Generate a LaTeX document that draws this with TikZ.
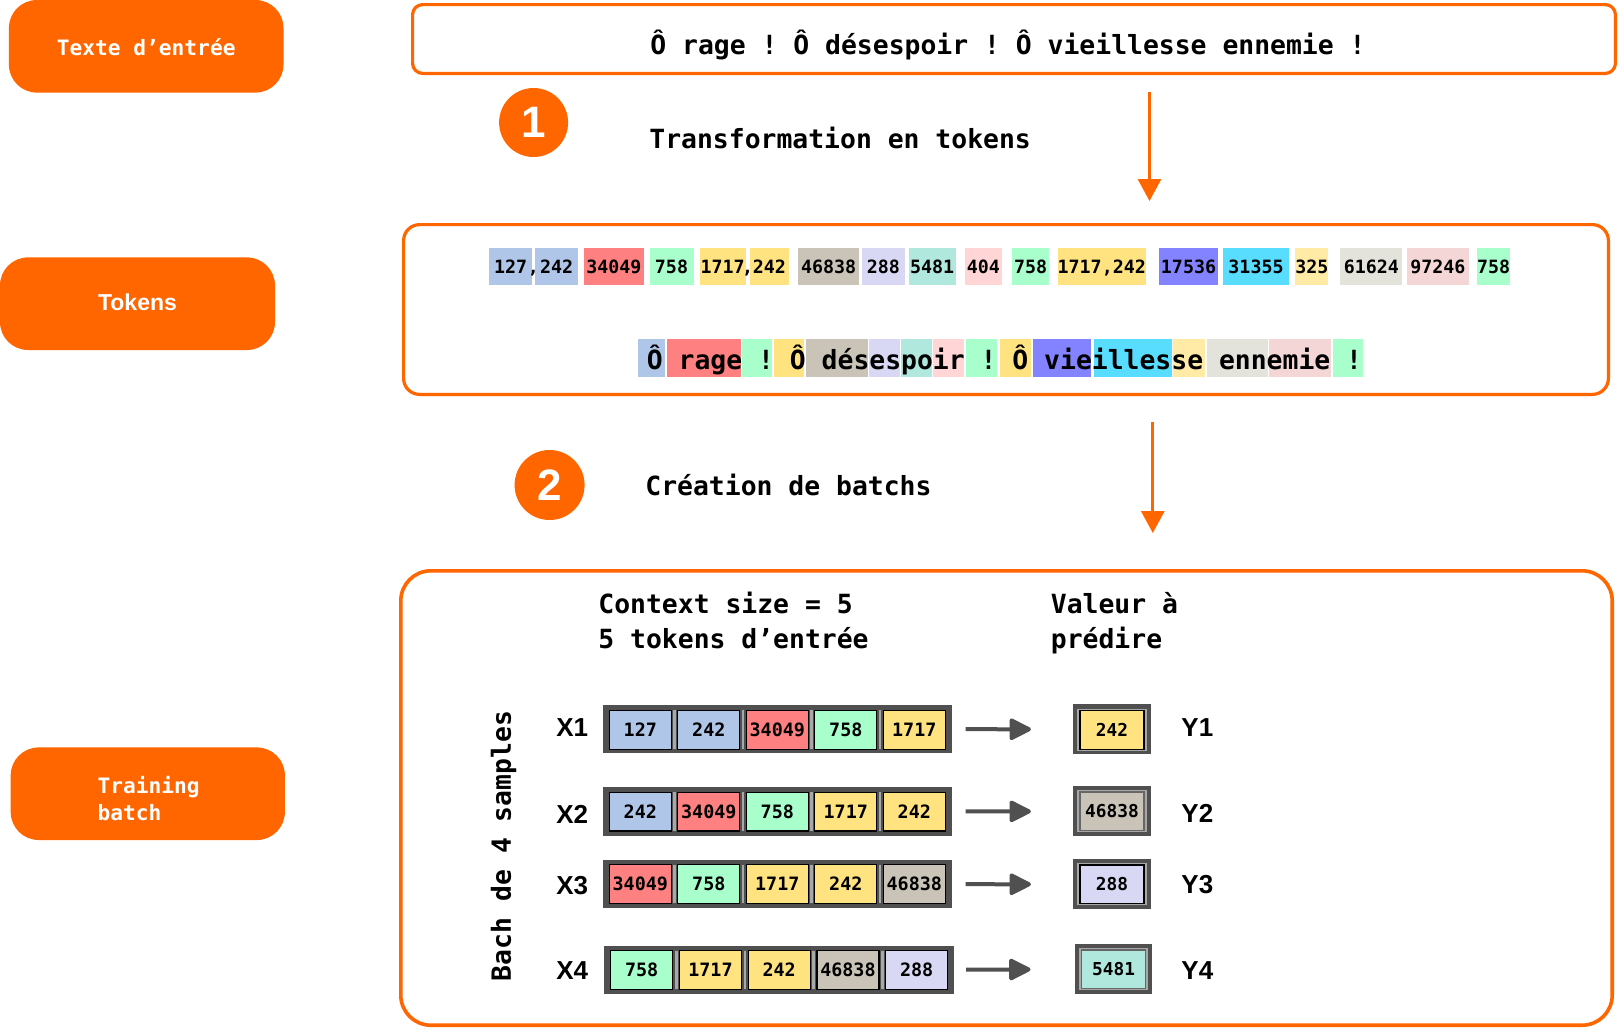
\documentclass[tikz,border=0pt]{standalone}
\usepackage{fontspec}
\setmainfont{Liberation Sans}
\newfontfamily\monof{DejaVu Sans Mono}
\newfontfamily\sansf{Liberation Sans}
\usetikzlibrary{arrows.meta}
\frenchspacing
\definecolor{orng}{HTML}{FF6600}
\definecolor{tBlue}{HTML}{B0C6E8}
\definecolor{tRed}{HTML}{FF8080}
\definecolor{tGreen}{HTML}{A8FFCC}
\definecolor{tYel}{HTML}{FFE380}
\definecolor{tTaupe}{HTML}{C9C4B7}
\definecolor{tLav}{HTML}{D9D8F4}
\definecolor{tTeal}{HTML}{B0E8DE}
\definecolor{tPink}{HTML}{FFD5D5}
\definecolor{tPurp}{HTML}{8383FF}
\definecolor{tCyan}{HTML}{58DCFF}
\definecolor{tLYel}{HTML}{FFEBA5}
\definecolor{tLGray}{HTML}{E3E3DB}
\definecolor{tLPink}{HTML}{F4D6D6}
\definecolor{dgray}{HTML}{505050}
\definecolor{lgray}{HTML}{A8A8A8}
\tikzset{
  obox/.style={draw=orng, line width=1.6pt, fill=white, inner sep=0pt},
  pill/.style={fill=orng, rounded corners=14pt, inner sep=0pt, minimum height=46.3pt},
  pilltxt/.style={text=white, inner sep=0pt, font=\monof\bfseries\fontsize{10.6}{13.35}\selectfont},
  pillsans/.style={text=white, inner sep=0pt, font=\sansf\bfseries\fontsize{11.5}{13}\selectfont},
  numc/.style={circle, fill=orng, text=white, inner sep=0pt, font=\sansf\bfseries\fontsize{22}{24}\selectfont},
  mtext/.style={inner sep=0pt, font=\monof\bfseries\fontsize{13.2}{16}\selectfont\frenchspacing},
  tokA/.style={inner sep=0pt, minimum height=18.5pt, text height=6.7pt, text depth=0pt, font=\monof\bfseries\fontsize{9.15}{11}\selectfont},
  commaA/.style={inner sep=0pt, text height=6.7pt, text depth=0pt, font=\monof\bfseries\fontsize{9.15}{11}\selectfont},
  tokB/.style={inner sep=0pt, minimum height=19pt},
  xrow/.style={fill=dgray, inner sep=0pt, minimum width=174.8pt, minimum height=24.15pt},
  xcell/.style={draw=black, line width=0.6pt, inner sep=0pt, minimum width=31pt, minimum height=19.3pt, text height=6.6pt, text depth=0pt, font=\monof\bfseries\fontsize{9.2}{11}\selectfont},
  sepl/.style={draw=lgray, line width=1.4pt},
  yout/.style={fill=dgray, inner sep=0pt, minimum width=38.7pt, minimum height=25pt},
  yin/.style={fill=lgray, inner sep=0pt, minimum width=34.7pt, minimum height=21pt},
  ycell/.style={draw=black, line width=0.6pt, inner sep=0pt, minimum width=32pt, minimum height=19.3pt, text height=6.4pt, text depth=0pt, font=\monof\bfseries\fontsize{8.9}{11}\selectfont},
  lab/.style={inner sep=0pt, anchor=west, font=\sansf\bfseries\fontsize{13}{15}\selectfont},
  oarrow/.style={draw=orng, line width=1.5pt, -{Triangle[length=11pt,width=11.5pt]}},
  garrow/.style={draw=dgray, line width=2pt, -{Triangle[length=12pt,width=11.5pt,round]}}
}
\newcommand\tokA[5]{%
  \pgfmathsetmacro\tkW{(#3-#2)*0.5}\pgfmathsetmacro\tkX{(#2+#3)/2}%
  \node[tokA, fill=#4, minimum width=\tkW pt] (#1) at (\tkX,266.5) {#5};}
\newcommand\tokB[4]{%
  \pgfmathsetmacro\tkW{(#3-#2)*0.5}\pgfmathsetmacro\tkX{(#2+#3)/2}%
  \node[tokB, fill=#4, minimum width=\tkW pt] (#1) at (\tkX,358) {};}
\newcommand\xc[5]{%
  \pgfmathsetmacro\tkX{#2+31}%
  \node[xcell, fill=#4] (#1) at (\tkX,#3) {#5};}
\begin{document}
\begin{tikzpicture}[x=0.5pt,y=-0.5pt]
\useasboundingbox (0,0) rectangle (1622,1029);

% left labels
\node[pill, minimum width=137.3pt] (p1) at (146.2,46.3) {};
\node[pilltxt] (p1t) at (146.2,47.5) {Texte d’entrée};
\node[pill, minimum width=137.5pt] (p2) at (137.5,303.7) {};
\node[pillsans] (p2t) at (137.5,302) {Tokens};
\node[pill, minimum width=137.1pt] (p3) at (147.8,793.7) {};
\node[pilltxt, align=left] (p3t) at (148.7,798.3) {Training\\batch};

% input text
\node[obox, rounded corners=5pt, minimum width=601.4pt, minimum height=34.4pt] (inbox) at (1014,39) {};
\node[mtext] (intext) at (1008,45.5) {Ô rage ! Ô désespoir ! Ô vieillesse ennemie !};

% step 1
\node[numc, minimum size=34.5pt] (n1) at (533.6,122.5) {1};
\node[mtext, anchor=west] (s1) at (649,137.5) {Transformation en tokens};
\coordinate (a1s) at (1149.5,92);
\coordinate (a1e) at (1149.5,201);
\draw[oarrow] (a1s) -- (a1e);

% tokens box
\node[obox, rounded corners=8pt, minimum width=602.4pt, minimum height=84.9pt] (tokbox) at (1006,309.5) {};
\tokA{r1a}{489.2}{532.0}{tBlue}{127}
\node[commaA] (r1c1) at (533.5,266.5) {,};
\tokA{r1b}{535.1}{578.0}{tBlue}{242}
\tokA{r1c}{583.7}{644.2}{tRed}{34049}
\tokA{r1d}{649.5}{693.5}{tGreen}{758}
\tokA{r1e}{699.7}{745.6}{tYel}{1717}
\node[commaA] (r1c2) at (747.7,266.5) {,};
\tokA{r1f}{749.8}{788.8}{tYel}{242}
\tokA{r1g}{798.0}{859.2}{tTaupe}{46838}
\tokA{r1h}{861.5}{905.1}{tLav}{288}
\tokA{r1i}{908.6}{955.7}{tTeal}{5481}
\tokA{r1j}{965.0}{1001.9}{tPink}{404}
\tokA{r1k}{1012.1}{1049.0}{tGreen}{758}
\tokA{r1l}{1057.6}{1145.9}{tYel}{1717,242}
\tokA{r1m}{1159.1}{1217.9}{tPurp}{17536}
\tokA{r1n}{1223.0}{1289.0}{tCyan}{31355}
\tokA{r1o}{1296.3}{1327.6}{tLYel}{325}
\tokA{r1p}{1340.4}{1402.2}{tLGray}{61624}
\tokA{r1q}{1406.9}{1469.0}{tLPink}{97246}
\tokA{r1r}{1478.4}{1508.9}{tGreen}{758}

\tokB{r2a}{638.0}{665.2}{tBlue}
\tokB{r2b}{667.1}{740.6}{tRed}
\tokB{r2c}{741.8}{772.0}{tGreen}
\tokB{r2d}{773.5}{804.1}{tYel}
\tokB{r2e}{806.4}{867.7}{tTaupe}
\tokB{r2f}{869.2}{899.8}{tLav}
\tokB{r2g}{901.0}{932.0}{tTeal}
\tokB{r2h}{933.1}{963.7}{tPink}
\tokB{r2i}{965.9}{997.1}{tGreen}
\tokB{r2j}{999.7}{1030.6}{tYel}
\tokB{r2k}{1033.1}{1091.4}{tPurp}
\tokB{r2l}{1094.0}{1172.0}{tCyan}
\tokB{r2m}{1173.3}{1205.0}{tLYel}
\tokB{r2n}{1207.1}{1268.4}{tLGray}
\tokB{r2o}{1269.3}{1331.4}{tLPink}
\tokB{r2p}{1332.7}{1362.7}{tGreen}
\node[mtext, anchor=west] (tokline) at (646.5,360) {Ô rage ! Ô désespoir ! Ô vieillesse ennemie !};

% step 2
\node[numc, minimum size=35pt] (n2) at (549.6,485) {2};
\node[mtext, anchor=west] (s2) at (645,485) {Création de batchs};
\coordinate (a2s) at (1152.8,422);
\coordinate (a2e) at (1152.8,533);
\draw[oarrow] (a2s) -- (a2e);

% training batch box
\node[obox, line width=1.8pt, rounded corners=15pt, minimum width=605.7pt, minimum height=227.2pt] (trbox) at (1006.5,798) {};
\node[mtext, anchor=base west] (ctx1) at (598,613.3) {Context size = 5};
\node[mtext, anchor=base west] (ctx2) at (598,648.3) {5 tokens d’entrée};
\node[mtext, anchor=base west] (val1) at (1050.5,613.3) {Valeur à};
\node[mtext, anchor=base west] (val2) at (1050.5,648.3) {prédire};
\node[mtext, rotate=90] (bach) at (503.5,846) {Bach de 4 samples};

% X rows
\node[lab] (lx1) at (556,727.5) {X1};
\node[lab] (lx2) at (556,814) {X2};
\node[lab] (lx3) at (556,886) {X3};
\node[lab] (lx4) at (556,971) {X4};

\node[xrow] (xr1) at (777.5,729.2) {};
\foreach \k in {1,2,3,4} \draw[sepl] ({609.3+68.5*\k-3.25},709.9) -- ({609.3+68.5*\k-3.25},748.5);
\xc{x1a}{609.3}{730}{tBlue}{127}
\xc{x1b}{677.8}{730}{tBlue}{242}
\xc{x1c}{746.3}{730}{tRed}{34049}
\xc{x1d}{814.8}{730}{tGreen}{758}
\xc{x1e}{883.3}{730}{tYel}{1717}

\node[xrow] (xr2) at (777.5,811.5) {};
\foreach \k in {1,2,3,4} \draw[sepl] ({609.3+68.5*\k-3.25},792.4) -- ({609.3+68.5*\k-3.25},831);
\xc{x2a}{609.3}{811.7}{tBlue}{242}
\xc{x2b}{677.8}{811.7}{tRed}{34049}
\xc{x2c}{746.3}{811.7}{tGreen}{758}
\xc{x2d}{814.8}{811.7}{tYel}{1717}
\xc{x2e}{883.3}{811.7}{tYel}{242}

\node[xrow] (xr3) at (777.5,884.2) {};
\foreach \k in {1,2,3,4} \draw[sepl] ({609.3+68.5*\k-3.25},864.8) -- ({609.3+68.5*\k-3.25},903.4);
\xc{x3a}{609.3}{884.1}{tRed}{34049}
\xc{x3b}{677.8}{884.1}{tGreen}{758}
\xc{x3c}{746.3}{884.1}{tYel}{1717}
\xc{x3d}{814.8}{884.1}{tYel}{242}
\xc{x3e}{883.3}{884.1}{tTaupe}{46838}

\node[xrow] (xr4) at (778.8,969.7) {};
\foreach \k in {1,2,3,4} \draw[sepl] ({610.7+68.75*\k-3.25},950.7) -- ({610.7+68.75*\k-3.25},989.3);
\xc{x4a}{610.7}{970}{tGreen}{758}
\xc{x4b}{679.45}{970}{tYel}{1717}
\xc{x4c}{748.2}{970}{tYel}{242}
\xc{x4d}{816.95}{970}{tTaupe}{46838}
\xc{x4e}{885.7}{970}{tLav}{288}

% Y boxes
\node[yout] (y1o) at (1112,729.3) {};
\node[yin] (y1i) at (1112,729.8) {};
\node[ycell, fill=tYel] (y1) at (1112,730) {242};
\node[yout] (y2o) at (1112,811.3) {};
\node[yin] (y2i) at (1112,811.3) {};
\node[ycell, fill=tTaupe, draw=black!60] (y2) at (1112,811.3) {46838};
\node[yout] (y3o) at (1112,884.3) {};
\node[yin] (y3i) at (1112,884.3) {};
\node[ycell, fill=tLav] (y3) at (1112,884.3) {288};
\node[yout] (y4o) at (1113.6,969.3) {};
\node[yin] (y4i) at (1113.6,969.3) {};
\node[ycell, fill=tTeal, draw=black!60] (y4) at (1113.6,969.3) {5481};

\node[lab] (ly1) at (1181,727.5) {Y1};
\node[lab] (ly2) at (1181,813) {Y2};
\node[lab] (ly3) at (1181,884.5) {Y3};
\node[lab] (ly4) at (1181,971) {Y4};

% arrows
\draw[garrow, shorten <=6.5pt, shorten >=21pt] (xr1.east) -- (y1o.west);
\draw[garrow, shorten <=6.5pt, shorten >=21pt] (xr2.east) -- (y2o.west);
\draw[garrow, shorten <=6.5pt, shorten >=21pt] (xr3.east) -- (y3o.west);
\draw[garrow, shorten <=6pt, shorten >=22pt] (xr4.east) -- (y4o.west);
\end{tikzpicture}
\end{document}
